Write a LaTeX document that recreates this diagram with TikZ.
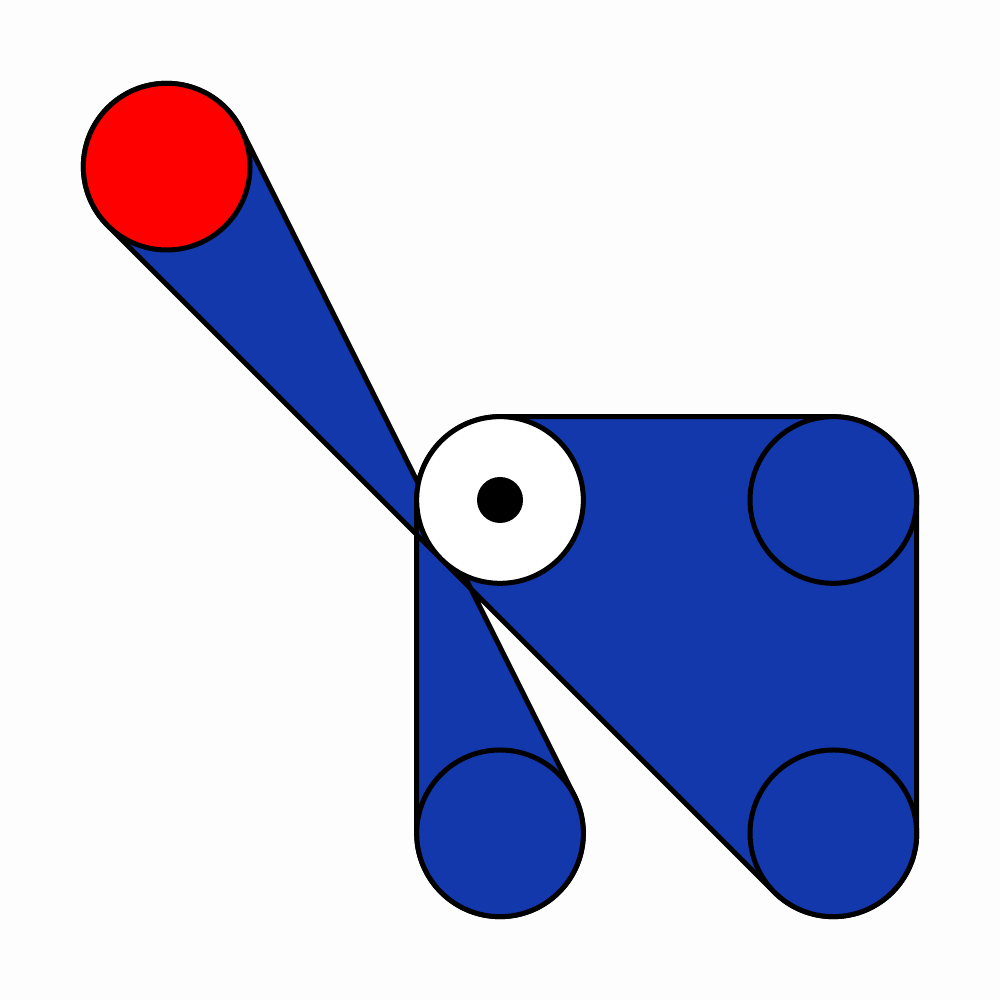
\documentclass[tikz,border=0pt]{standalone}
\usetikzlibrary{calc}
\definecolor{beltblue}{RGB}{19,56,172}
\definecolor{bg}{RGB}{253,253,253}
\begin{document}
\begin{tikzpicture}[
  line width=0.05cm,
  pulley/.style={circle, draw=black, line width=0.05cm, minimum size=1.6667cm, inner sep=0pt, outer sep=0pt},
  beltpath/.style={fill=beltblue, draw=black, line join=round}
]
\fill[bg] (0,0) rectangle (10,10);
\useasboundingbox (0,0) rectangle (10,10);
\def\r{0.8333}
\coordinate (R) at (1.6667,8.3333);
\coordinate (W) at (5,5);
\coordinate (TR) at (8.3333,5);
\coordinate (BL) at (5,1.6667);
\coordinate (BR) at (8.3333,1.6667);
% belt
\path[beltpath] ($(R)+(26.565:\r)$) -- ($(BL)+(26.565:\r)$)
  arc[start angle=26.565, end angle=-180, radius=\r]
  -- ($(W)+(180:\r)$)
  arc[start angle=180, end angle=90, radius=\r]
  -- ($(TR)+(90:\r)$)
  arc[start angle=90, end angle=0, radius=\r]
  -- ($(BR)+(0:\r)$)
  arc[start angle=0, end angle=-135, radius=\r]
  -- ($(R)+(-135:\r)$)
  arc[start angle=225, end angle=26.565, radius=\r]
  -- cycle;
% pulleys
\node[pulley, fill=red] (red) at (R) {};
\node[pulley, fill=white] (idler) at (W) {};
\node[circle, fill=black, minimum size=0.46cm, inner sep=0pt] (dot) at (W) {};
\node[pulley, fill=beltblue] (tr) at (TR) {};
\node[pulley, fill=beltblue] (bl) at (BL) {};
\node[pulley, fill=beltblue] (br) at (BR) {};
\end{tikzpicture}
\end{document}
